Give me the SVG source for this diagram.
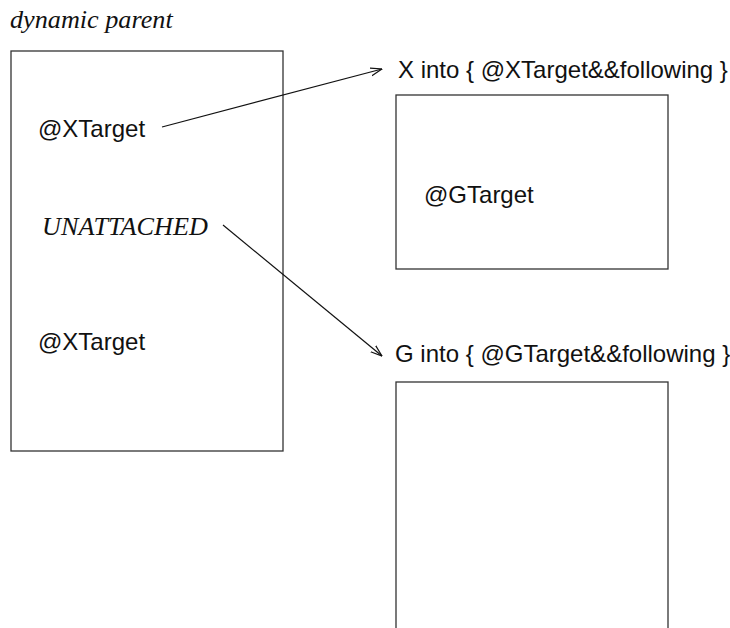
<svg xmlns="http://www.w3.org/2000/svg" width="730" height="628" viewBox="0 0 730 628">
<style>
.box{fill:none;stroke:#333;stroke-width:1.3}
.sans{font-family:"Liberation Sans",Arial,sans-serif;font-size:24px;fill:#111}
.serif{font-family:"Liberation Serif","Times New Roman",serif;font-style:italic;font-size:26.2px;fill:#111}
.conn{fill:none;stroke:#111;stroke-width:1.2}
</style>
<defs>
<marker id="arr" viewBox="0 0 12 10" refX="11.5" refY="5" markerWidth="12" markerHeight="10" markerUnits="userSpaceOnUse" orient="auto">
<path d="M0,1 L11.5,5 L0,9" fill="none" stroke="#111" stroke-width="1.2"/>
</marker>
</defs>
<text class="serif" x="10" y="28">dynamic parent</text>
<g id="parent">
<rect class="box" x="11" y="51" width="272" height="400"/>
<text class="sans" x="38" y="137">@XTarget</text>
<text class="serif" x="42" y="235">UNATTACHED</text>
<text class="sans" x="38" y="350">@XTarget</text>
</g>
<g id="xinto">
<text class="sans" x="398" y="78">X into { @XTarget&amp;&amp;following }</text>
<rect class="box" x="396" y="95" width="272" height="174"/>
<text class="sans" x="424" y="203">@GTarget</text>
</g>
<g id="ginto">
<text class="sans" x="395" y="362">G into { @GTarget&amp;&amp;following }</text>
<rect class="box" x="396" y="382" width="272" height="260"/>
</g>
<g id="connectors">
<line class="conn" x1="162" y1="127" x2="382" y2="69" marker-end="url(#arr)"/>
<line class="conn" x1="223" y1="225" x2="382" y2="356" marker-end="url(#arr)"/>
</g>
</svg>
